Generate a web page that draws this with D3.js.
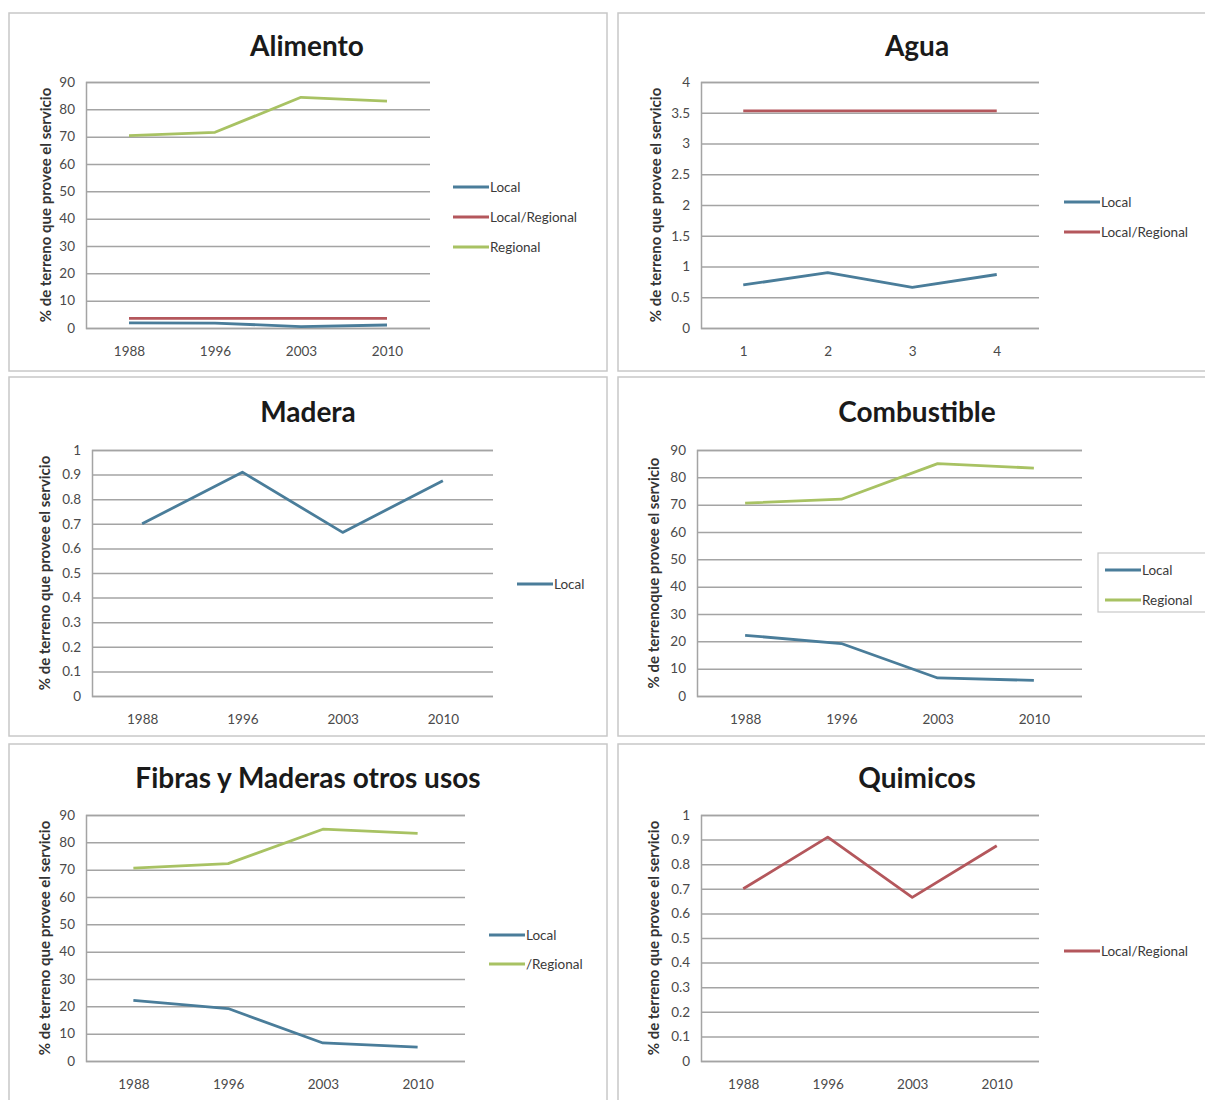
<!DOCTYPE html>
<html>
<head>
<meta charset="utf-8">
<script src="https://cdn.jsdelivr.net/npm/d3@7"></script>
<style>
  html, body { margin: 0; padding: 0; background: #ffffff; }
  svg { display: block; }
</style>
</head>
<body>
<svg id="chart" width="1205" height="1100"></svg>
<script>
// ---- Data -------------------------------------------------------------
const years = ["1988", "1996", "2003", "2010"];
const aguaCategories = ["1", "2", "3", "4"];

const ticksPct90 = [0, 10, 20, 30, 40, 50, 60, 70, 80, 90];
const ticksAgua = [0, 0.5, 1, 1.5, 2, 2.5, 3, 3.5, 4];
const ticksUnit = [0, 0.1, 0.2, 0.3, 0.4, 0.5, 0.6, 0.7, 0.8, 0.9, 1];

const alimentoLocal = [1.9, 1.8, 0.5, 1.1];
const alimentoLocalRegional = [3.5, 3.5, 3.5, 3.5];
const alimentoRegional = [70.4, 71.6, 84.4, 83.0];

const aguaLocal = [0.70, 0.90, 0.66, 0.87];
const aguaLocalRegional = [3.53, 3.53, 3.53, 3.53];

const maderaLocal = [0.70, 0.91, 0.665, 0.875];

const combustibleLocal = [22.2, 19.2, 6.6, 5.7];
const combustibleRegional = [70.6, 72.0, 85.0, 83.4];

const fibrasLocal = [22.2, 19.2, 6.6, 5.1];
const fibrasRegional = [70.6, 72.2, 84.8, 83.3];

const quimicosLocalRegional = [0.70, 0.91, 0.665, 0.875];

const yTitle = "% de terreno que provee el servicio";
const yTitleCombustible = "% de terrenoque provee el servicio";

// ---- Styling ----------------------------------------------------------
const COLORS = { local: "#4a7d9a", localRegional: "#b4575c", regional: "#a8c263" };
const FONT = "Lato, 'Open Sans', sans-serif";

// ---- Panel definitions (content + layout) -----------------------------
const panels = [
  {
    title: "Alimento", cats: years, ticks: ticksPct90, max: 90, yTitle: yTitle,
    series: [
      { name: "Local", values: alimentoLocal, color: COLORS.local },
      { name: "Local/Regional", values: alimentoLocalRegional, color: COLORS.localRegional },
      { name: "Regional", values: alimentoRegional, color: COLORS.regional }
    ],
    frame: [9, 13, 607, 371], plot: { l: 86, r: 430, t: 82, b: 328 },
    titlePos: [307, 45], yTitleX: 45,
    legend: { x: 453, ys: [187, 217, 247] }
  },
  {
    title: "Agua", cats: aguaCategories, ticks: ticksAgua, max: 4, yTitle: yTitle,
    series: [
      { name: "Local", values: aguaLocal, color: COLORS.local },
      { name: "Local/Regional", values: aguaLocalRegional, color: COLORS.localRegional }
    ],
    frame: [618, 13, 1212, 371], plot: { l: 701, r: 1039, t: 82, b: 328 },
    titlePos: [917, 45], yTitleX: 655,
    legend: { x: 1064, ys: [202, 232] }
  },
  {
    title: "Madera", cats: years, ticks: ticksUnit, max: 1, yTitle: yTitle,
    series: [
      { name: "Local", values: maderaLocal, color: COLORS.local }
    ],
    frame: [9, 377, 607, 736], plot: { l: 92, r: 493, t: 450, b: 696 },
    titlePos: [308, 411], yTitleX: 44,
    legend: { x: 517, ys: [584] }
  },
  {
    title: "Combustible", cats: years, ticks: ticksPct90, max: 90, yTitle: yTitleCombustible,
    series: [
      { name: "Local", values: combustibleLocal, color: COLORS.local },
      { name: "Regional", values: combustibleRegional, color: COLORS.regional }
    ],
    frame: [618, 377, 1212, 736], plot: { l: 697, r: 1082, t: 450, b: 696 },
    titlePos: [917, 411], yTitleX: 653,
    legend: { x: 1105, ys: [570, 600], box: [1098, 553, 1212, 612] }
  },
  {
    title: "Fibras y Maderas otros usos", cats: years, ticks: ticksPct90, max: 90, yTitle: yTitle,
    series: [
      { name: "Local", values: fibrasLocal, color: COLORS.local },
      { name: "/Regional", values: fibrasRegional, color: COLORS.regional }
    ],
    frame: [9, 744, 607, 1110], plot: { l: 86, r: 465, t: 815, b: 1061 },
    titlePos: [308, 777], yTitleX: 44,
    legend: { x: 489, ys: [935, 964] }
  },
  {
    title: "Quimicos", cats: years, ticks: ticksUnit, max: 1, yTitle: yTitle,
    series: [
      { name: "Local/Regional", values: quimicosLocalRegional, color: COLORS.localRegional }
    ],
    frame: [618, 744, 1212, 1110], plot: { l: 701, r: 1039, t: 815, b: 1061 },
    titlePos: [917, 777], yTitleX: 653,
    legend: { x: 1064, ys: [951] }
  }
];

const svg = d3.select("#chart");

function fmt(v) { return String(+v.toFixed(1)); }

panels.forEach(p => {
  const g = svg.append("g");
  const [fx0, fy0, fx1, fy1] = p.frame;

  // panel frame
  g.append("rect")
    .attr("x", fx0).attr("y", fy0)
    .attr("width", fx1 - fx0).attr("height", fy1 - fy0)
    .attr("fill", "#ffffff").attr("stroke", "#c8c8c8").attr("stroke-width", 1.5);

  // title
  g.append("text")
    .attr("x", p.titlePos[0]).attr("y", p.titlePos[1])
    .attr("text-anchor", "middle").attr("dominant-baseline", "central")
    .attr("font-family", FONT).attr("font-weight", "bold")
    .attr("font-size", 28).attr("fill", "#1a1a1a")
    .text(p.title);

  const x = d3.scalePoint().domain(p.cats).range([p.plot.l, p.plot.r]).padding(0.5);
  const y = d3.scaleLinear().domain([0, p.max]).range([p.plot.b, p.plot.t]);

  // horizontal gridlines + y tick labels
  const yAxis = d3.axisLeft(y).tickValues(p.ticks).tickFormat(fmt)
    .tickSize(-(p.plot.r - p.plot.l)).tickPadding(11);
  const ya = g.append("g").attr("transform", `translate(${p.plot.l},0)`).call(yAxis);
  ya.select(".domain").attr("stroke", "#a4a4a4").attr("stroke-width", 1.5);
  ya.selectAll(".tick line").attr("stroke", "#a4a4a4").attr("stroke-width", 1.5);
  ya.selectAll(".tick text")
    .attr("font-family", FONT).attr("font-size", 13.5).attr("fill", "#4a4a4a");

  // category labels
  const xAxis = d3.axisBottom(x).tickSize(0).tickPadding(18);
  const xa = g.append("g").attr("transform", `translate(0,${p.plot.b})`).call(xAxis);
  xa.select(".domain").remove();
  xa.selectAll(".tick text")
    .attr("font-family", FONT).attr("font-size", 13.5).attr("fill", "#4a4a4a");

  // y axis title
  const cy = (p.plot.t + p.plot.b) / 2;
  g.append("text")
    .attr("transform", `translate(${p.yTitleX},${cy}) rotate(-90)`)
    .attr("text-anchor", "middle").attr("dominant-baseline", "central")
    .attr("font-family", FONT).attr("font-weight", "bold")
    .attr("font-size", 15).attr("fill", "#333333")
    .text(p.yTitle);

  // series lines
  const line = d3.line().x((d, i) => x(p.cats[i])).y(d => y(d));
  p.series.forEach(s => {
    g.append("path")
      .datum(s.values)
      .attr("d", line)
      .attr("fill", "none")
      .attr("stroke", s.color)
      .attr("stroke-width", 2.8)
      .attr("stroke-linejoin", "round");
  });

  // legend
  if (p.legend.box) {
    const [bx0, by0, bx1, by1] = p.legend.box;
    g.append("rect")
      .attr("x", bx0).attr("y", by0)
      .attr("width", bx1 - bx0).attr("height", by1 - by0)
      .attr("fill", "#ffffff").attr("stroke", "#c8c8c8").attr("stroke-width", 1.2);
  }
  p.series.forEach((s, i) => {
    const ly = p.legend.ys[i];
    g.append("line")
      .attr("x1", p.legend.x).attr("x2", p.legend.x + 36)
      .attr("y1", ly).attr("y2", ly)
      .attr("stroke", s.color).attr("stroke-width", 3);
    g.append("text")
      .attr("x", p.legend.x + 37).attr("y", ly)
      .attr("dominant-baseline", "central")
      .attr("font-family", FONT).attr("font-size", 13.5).attr("fill", "#3a3a3a")
      .text(s.name);
  });
});
</script>
</body>
</html>
